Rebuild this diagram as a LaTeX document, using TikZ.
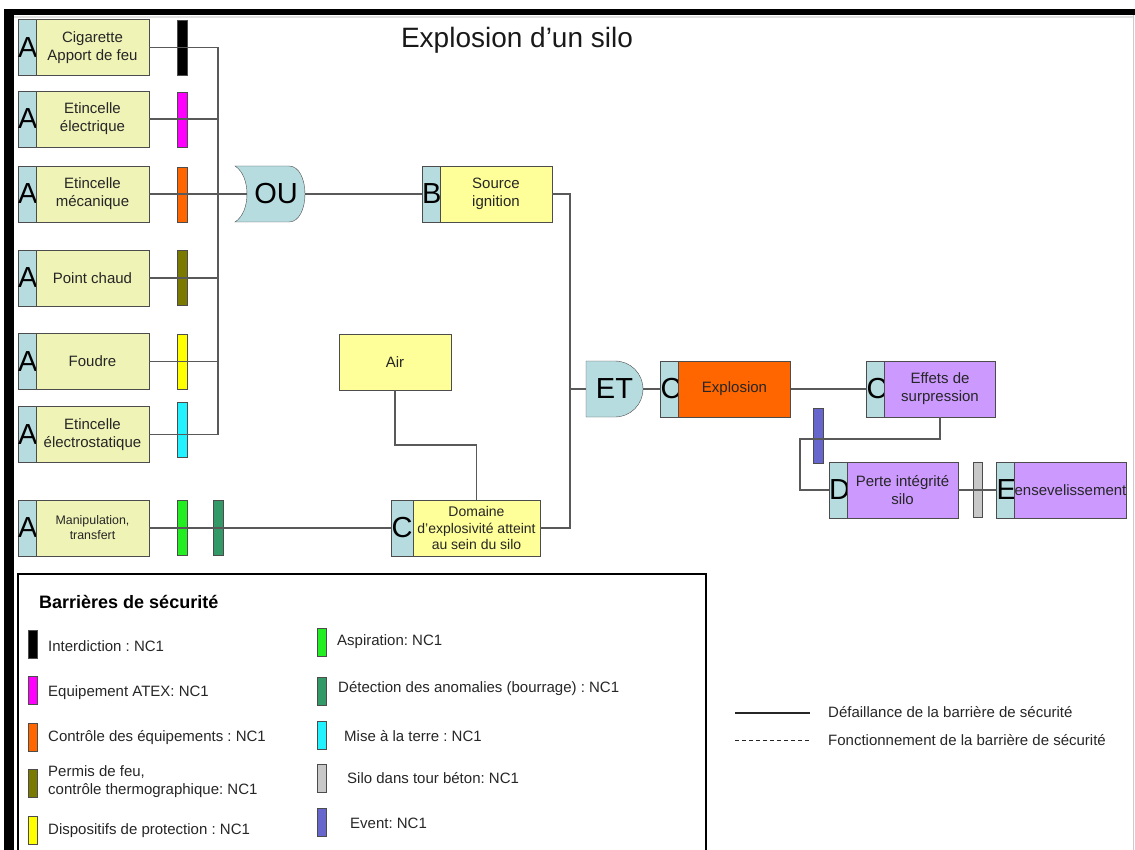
\documentclass[tikz,border=0pt]{standalone}
\usepackage{fontspec}
\setmainfont{Liberation Sans}
\usetikzlibrary{positioning}
\frenchspacing
\definecolor{siBleu}{HTML}{B7DCE0}
\definecolor{siPale}{HTML}{EFF3B6}
\definecolor{siJaune}{HTML}{FFFF99}
\definecolor{siOrange}{HTML}{FF6600}
\definecolor{siViolet}{HTML}{CC99FF}
\definecolor{barNoir}{HTML}{000000}
\definecolor{barMagenta}{HTML}{FF00FF}
\definecolor{barOrange}{HTML}{FF6600}
\definecolor{barOlive}{HTML}{7A7A00}
\definecolor{barJaune}{HTML}{FFFF00}
\definecolor{barCyan}{HTML}{22F2FF}
\definecolor{barVert}{HTML}{22EE22}
\definecolor{barVertFonce}{HTML}{339966}
\definecolor{barGris}{HTML}{C8C8C8}
\definecolor{barEvent}{HTML}{6666CC}
\tikzset{
  lettre/.style={rectangle, draw=black!70, fill=siBleu, text width=18pt,
    minimum height=56pt, inner sep=0pt, outer sep=0pt, align=center,
    font=\fontsize{29}{29}\selectfont},
  causeA/.style={rectangle, draw=black!70, fill=siPale, text=black!85,
    minimum width=113pt, minimum height=56pt, inner sep=0pt, outer sep=0pt,
    align=center, font=\fontsize{15}{18}\selectfont},
  evt/.style={causeA, fill=siJaune, minimum width=112pt},
  evtorange/.style={evt, fill=siOrange},
  evtviolet/.style={evt, fill=siViolet, minimum width=111pt},
  porte/.style={draw=black!70, fill=siBleu},
  portetxt/.style={minimum height=56pt, inner sep=0pt, outer sep=0pt,
    font=\fontsize{29}{29}\selectfont},
  barriere/.style={rectangle, draw=black!70, minimum width=10pt,
    minimum height=55pt, inner sep=0pt, outer sep=0pt},
  lien/.style={draw=black!65, line width=1.2pt},
  legbar/.style={rectangle, draw=black!70, minimum width=9pt,
    minimum height=28pt, inner sep=0pt},
  legtxt/.style={anchor=west, align=left, text=black!85, inner sep=0pt,
    font=\fontsize{15}{18}\selectfont},
}

\begin{document}
\begin{tikzpicture}[x=1pt, y=-1pt]
\useasboundingbox (0,0) rectangle (1135,850);

% ---------- frame ----------
\fill[black] (4,9) rectangle (1135,15);
\fill[black] (4,9) rectangle (14,850);
\draw[black!12, line width=2pt] (14,17) -- (1133,17);
\draw[black!20] (1133.5,15) -- (1133.5,850);

\node[font=\fontsize{28}{32}\selectfont, text=black!90] (titre) at (517,40)
  {Explosion d’un silo};

% ---------- causes A ----------
\node[lettre] (cig-l) at (27,47.5) {A};
\node[causeA, right=0pt of cig-l] (cig) {Cigarette\\Apport de feu};

\node[lettre] (ele-l) at (27,119) {A};
\node[causeA, right=0pt of ele-l] (ele) {Etincelle\\électrique};

\node[lettre] (mec-l) at (27,194) {A};
\node[causeA, right=0pt of mec-l] (mec) {Etincelle\\mécanique};

\node[lettre] (pch-l) at (27,278) {A};
\node[causeA, right=0pt of pch-l] (pch) {Point chaud};

\node[lettre] (fou-l) at (27,361.5) {A};
\node[causeA, right=0pt of fou-l] (fou) {Foudre};

\node[lettre] (est-l) at (27,434.5) {A};
\node[causeA, right=0pt of est-l] (est) {Etincelle\\électrostatique};

\node[lettre] (man-l) at (27,528) {A};
\node[causeA, right=0pt of man-l, font=\fontsize{12.4}{15}\selectfont] (man)
  {Manipulation,\\transfert};

% ---------- barrieres ----------
\node[barriere, fill=barNoir] (bar-cig) at (182,47.5) {};
\node[barriere, fill=barMagenta] (bar-ele) at (182,119.5) {};
\node[barriere, fill=barOrange] (bar-mec) at (182,194.5) {};
\node[barriere, fill=barOlive] (bar-pch) at (182,278) {};
\node[barriere, fill=barJaune] (bar-fou) at (182,361.5) {};
\node[barriere, fill=barCyan] (bar-est) at (182,430) {};
\node[barriere, fill=barVert] (bar-asp) at (182,528) {};
\node[barriere, fill=barVertFonce] (bar-det) at (218,528) {};

% ---------- porte OU ----------
\filldraw[porte] (235,166) -- (289,166) .. controls (299,166) and (305,179) .. (305,194)
  .. controls (305,209) and (299,222) .. (289,222) -- (235,222)
  .. controls (251,212) and (251,176) .. cycle;
\node[portetxt, minimum width=58pt] (ou) at (276,194) {OU};

% ---------- evenements ----------
\node[lettre] (src-l) at (431,194) {B};
\node[evt, right=0pt of src-l] (src) {Source\\ignition};

\node[evt] (air) at (395,362) {Air};

\node[lettre, text width=22pt] (dom-l) at (402,528) {C};
\node[evt, minimum width=127pt, font=\fontsize{14}{16.5}\selectfont,
  right=0pt of dom-l] (dom) {Domaine\\d’explosivité atteint\\au sein du silo};

% ---------- porte ET ----------
\filldraw[porte] (586,361) -- (615,361) .. controls (630.5,361) and (643,373.5) .. (643,389)
  .. controls (643,404.5) and (630.5,417) .. (615,417) -- (586,417) -- cycle;
\node[portetxt, minimum width=57pt] (et) at (614.5,389) {ET\hspace{9pt}};

\node[lettre] (exp-l) at (669.5,389) {C};
\node[evtorange, right=0pt of exp-l] (exp) {Explosion};

\node[lettre] (eff-l) at (875.5,389) {C};
\node[evtviolet, right=0pt of eff-l] (eff) {Effets de\\surpression};

\node[barriere, fill=barEvent] (bar-evt) at (818,435.5) {};

\node[lettre] (per-l) at (838,490) {D};
\node[evtviolet, right=0pt of per-l] (per) {Perte intégrité\\silo};

\node[barriere, fill=barGris, minimum width=9pt] (bar-silo) at (977.5,490) {};

\node[lettre] (ens-l) at (1005.5,490) {E};
\node[evtviolet, minimum width=112pt, right=0pt of ens-l] (ens) {ensevelissement};

% ================= Liens =================
\coordinate (bus) at (218,194);
\draw[lien] (cig.east) -- (cig.east -| bus);
\draw[lien] (ele.east) -- (ele.east -| bus);
\draw[lien] (pch.east) -- (pch.east -| bus);
\draw[lien] (fou.east) -- (fou.east -| bus);
\draw[lien] (est.east) -- (est.east -| bus);
\draw[lien] (cig.east -| bus) -- (est.east -| bus);
\draw[lien] (mec.east) -- (ou.west);

\draw[lien] (ou.east) -- (src-l.west);

\coordinate (jn) at (570,389);
\draw[lien] (src.east) -| (jn) |- (dom.east);
\draw[lien] (jn) -- (et.west);

\draw[lien] (air.south) -- ++(0,55) -| (dom.north);
\draw[lien] (man.east) -- (dom-l.west);

\draw[lien] (et.east) -- (exp-l.west);
\draw[lien] (exp.east) -- (eff-l.west);

\coordinate (ek) at (800,439);
\draw[lien] (eff.south) |- (ek) |- (per-l.west);
\draw[lien] (per.east) -- (ens-l.west);

% ================= Legende =================
\draw[line width=2pt] (18,852) -- (18,574) -- (706,574) -- (706,852);
\node[font=\bfseries\fontsize{18}{20}\selectfont, anchor=west, inner sep=0pt]
  (leg-titre) at (39,602) {Barrières de sécurité};

\node[legbar, fill=barNoir] (leg-int) at (33,644) {};
\node[legtxt] (leg-int-t) at (48,646) {Interdiction : NC1};
\node[legbar, fill=barMagenta] (leg-atex) at (33,690.5) {};
\node[legtxt] (leg-atex-t) at (48,693) {Equipement ATEX: NC1};
\node[legbar, fill=barOrange] (leg-ctrl) at (33,737) {};
\node[legtxt] (leg-ctrl-t) at (48,738) {Contrôle des équipements : NC1};
\node[legbar, fill=barOlive] (leg-perm) at (33,783.5) {};
\node[legtxt] (leg-perm-t) at (48,782) {Permis de feu,\\contrôle thermographique: NC1};
\node[legbar, fill=barJaune] (leg-disp) at (33,830) {};
\node[legtxt] (leg-disp-t) at (48,831) {Dispositifs de protection : NC1};

\node[legbar, fill=barVert] (leg-asp) at (321.5,642.5) {};
\node[legtxt] (leg-asp-t) at (337,642) {Aspiration: NC1};
\node[legbar, fill=barVertFonce] (leg-det) at (321.5,691) {};
\node[legtxt] (leg-det-t) at (338,689) {Détection des anomalies (bourrage) : NC1};
\node[legbar, fill=barCyan] (leg-terre) at (321.5,735.5) {};
\node[legtxt] (leg-terre-t) at (344,736) {Mise à la terre : NC1};
\node[legbar, fill=barGris] (leg-silo) at (321.5,778) {};
\node[legtxt] (leg-silo-t) at (347,778) {Silo dans tour béton: NC1};
\node[legbar, fill=barEvent] (leg-evt) at (321.5,822) {};
\node[legtxt] (leg-evt-t) at (350,823) {Event: NC1};

\draw[black!85, line width=1.3pt] (735,713) -- (810,713);
\draw[black!85, line width=1pt, dash pattern=on 4pt off 3pt] (735,740) -- (810,740);
\node[legtxt] (leg-def) at (828,712) {Défaillance de la barrière de sécurité};
\node[legtxt] (leg-fct) at (828,740) {Fonctionnement de la barrière de sécurité};

\end{tikzpicture}
\end{document}
